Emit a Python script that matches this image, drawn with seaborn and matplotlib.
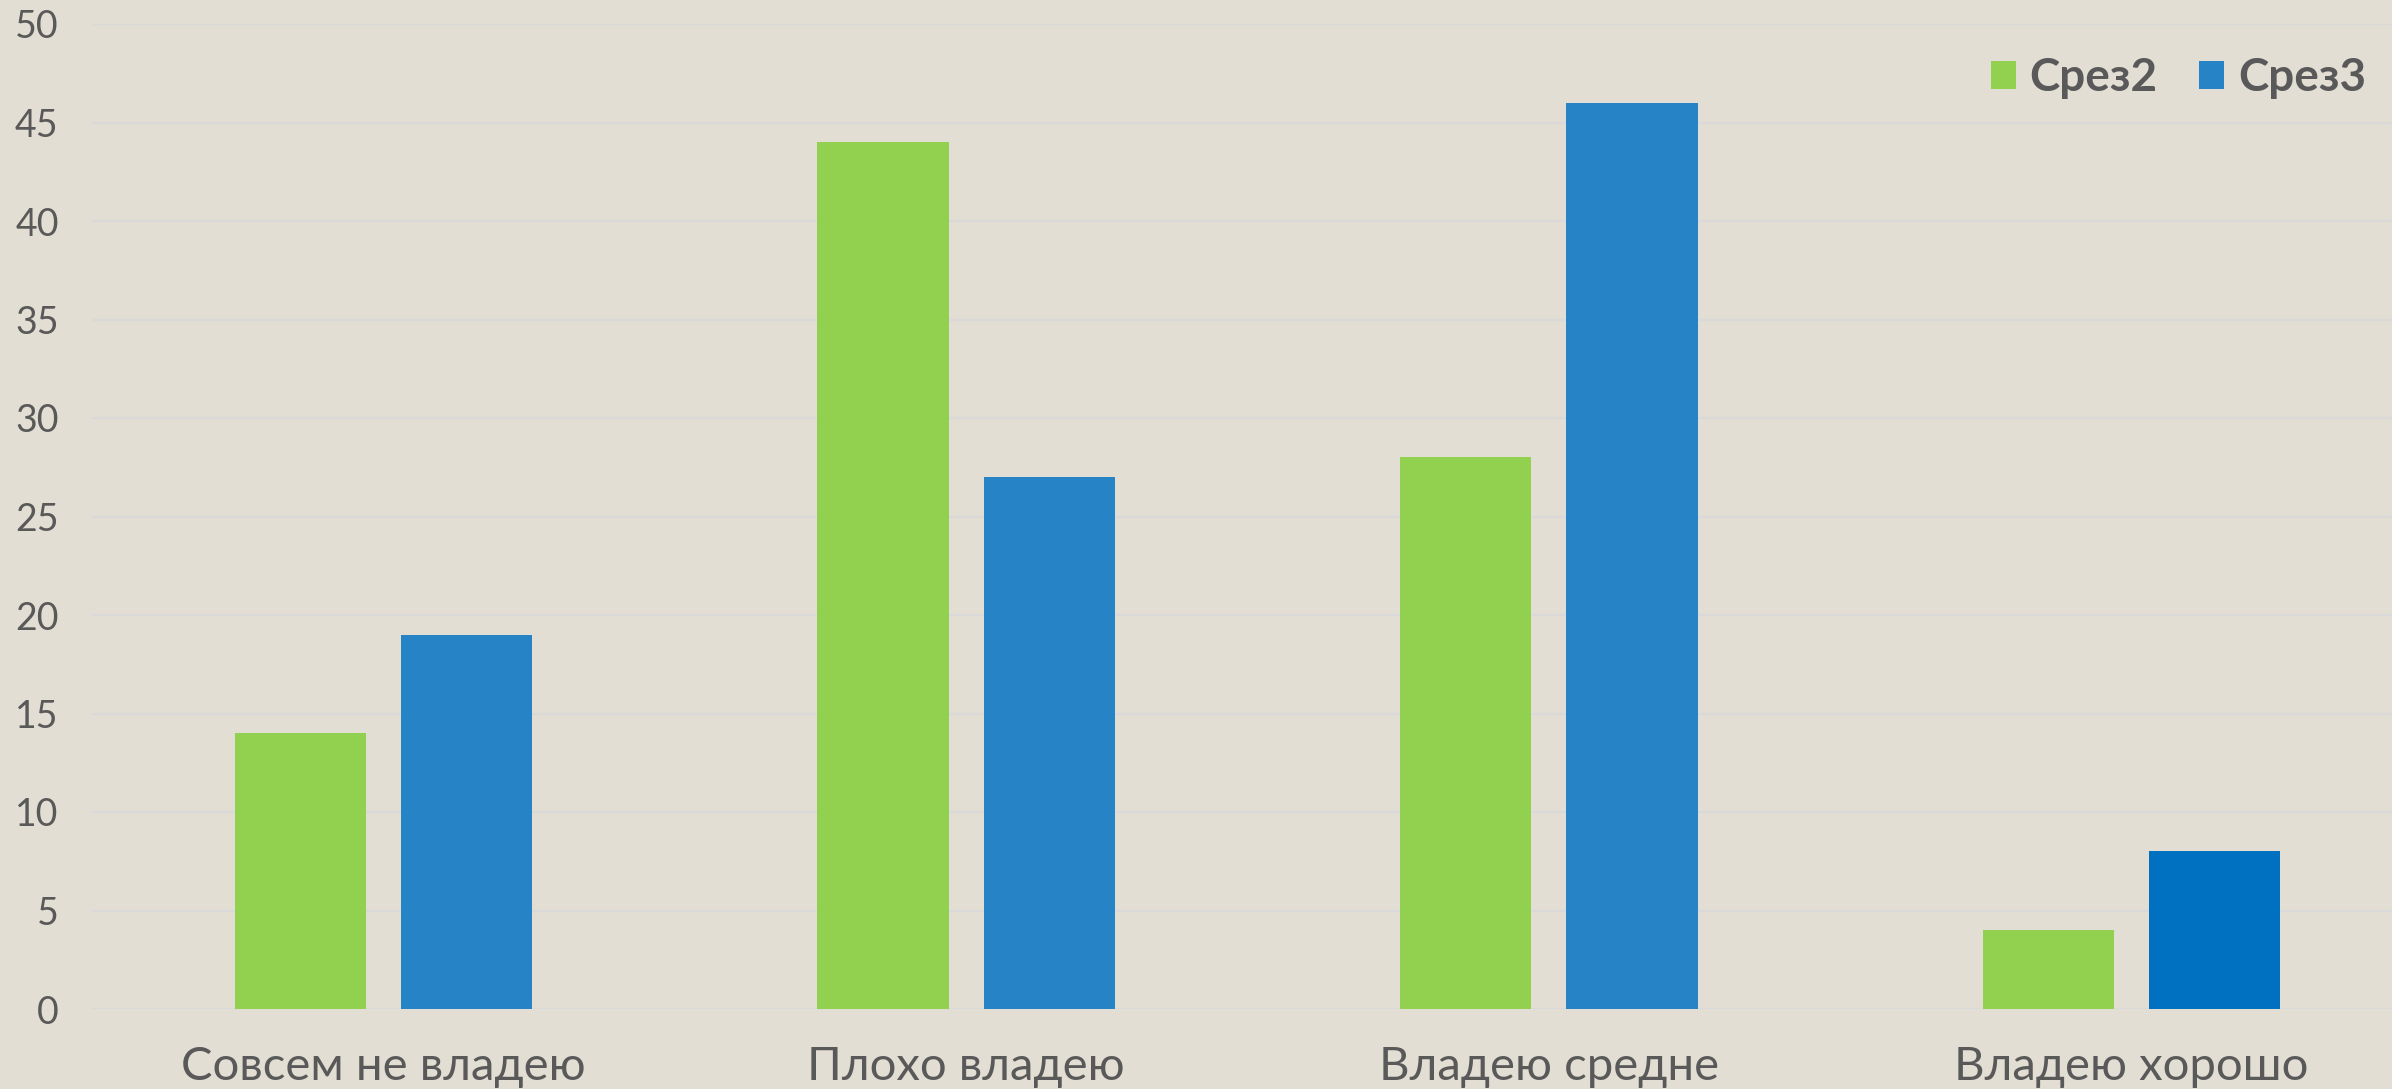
import matplotlib
matplotlib.use("Agg")
import matplotlib.pyplot as plt
import seaborn as sns
import pandas as pd
from matplotlib.patches import Patch

categories = ["Совсем не владею", "Плохо владею", "Владею средне", "Владею хорошо"]
series_names = ["Срез2", "Срез3"]
srez2 = [14, 44, 28, 4]
srez3 = [19, 27, 46, 8]
y_ticks = [0, 5, 10, 15, 20, 25, 30, 35, 40, 45, 50]

bg = "#E3DED3"
green = "#92D050"
blue = "#2683C6"
dark_blue = "#0070C0"
text_col = "#595959"
grid_col = "#D9D9D9"

sns.set_theme(style="white")
plt.rcParams["font.family"] = ["Lato", "DejaVu Sans"]

df = pd.DataFrame({
    "cat": categories * 2,
    "val": srez2 + srez3,
    "series": [series_names[0]] * 4 + [series_names[1]] * 4,
})

fig = plt.figure(figsize=(23.92, 10.89), dpi=100)
fig.patch.set_facecolor(bg)
ax = fig.add_axes([92 / 2392, 80 / 1089, 2331 / 2392, 985 / 1089])
ax.set_facecolor(bg)

sns.barplot(data=df, x="cat", y="val", hue="series", order=categories,
            hue_order=series_names, palette=[green, blue], width=0.57,
            gap=0.21, saturation=1, ax=ax, legend=False, zorder=3,
            linewidth=0, edgecolor="none")

# last bar of Срез3 is drawn in a darker blue in the original
ax.containers[1][3].set_facecolor(dark_blue)

ax.set_ylim(0, 50)
ax.set_xlim(-0.5, 3.5)
ax.set_yticks(y_ticks)
ax.yaxis.grid(True, color=grid_col, linewidth=1.6, zorder=0)
ax.xaxis.grid(False)
for s in ax.spines.values():
    s.set_visible(False)
ax.set_xlabel("")
ax.set_ylabel("")
ax.tick_params(axis="y", length=0, pad=24, labelsize=27, labelcolor=text_col)
ax.tick_params(axis="x", length=0, pad=27, labelsize=34, labelcolor=text_col)

handles = [Patch(facecolor=green, edgecolor="none"), Patch(facecolor=blue, edgecolor="none")]
leg = fig.legend(handles, series_names, loc="center right",
                 bbox_to_anchor=(2366 / 2392, 1 - 78 / 1089), ncol=2, frameon=False,
                 borderpad=0, borderaxespad=0,
                 handlelength=0.55, handleheight=0.55, handletextpad=0.3,
                 columnspacing=0.9, prop={"size": 33, "weight": "bold"})
for t in leg.get_texts():
    t.set_color(text_col)

fig.savefig("out.png", dpi=100, facecolor=bg)
